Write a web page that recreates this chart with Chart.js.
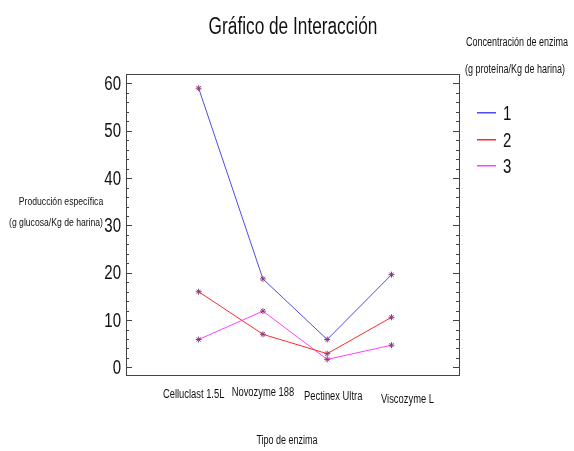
<!DOCTYPE html>
<html>
<head>
<meta charset="utf-8">
<script src="https://cdn.jsdelivr.net/npm/chart.js@4"></script>
<style>
html,body{margin:0;padding:0;background:#fff;}
#wrap{width:574px;height:451px;position:relative;}
</style>
</head>
<body>
<div id="wrap"><canvas id="c" width="574" height="451"></canvas></div>
<script>
const categories = ["Celluclast 1.5L", "Novozyme 188", "Pectinex Ultra", "Viscozyme L"];
const seriesNames = ["1", "2", "3"];
const series1 = [59.0, 18.7, 5.9, 19.6];
const series2 = [16.0, 7.0, 2.9, 10.6];
const series3 = [5.9, 11.9, 1.7, 4.7];
const seriesColors = ["#4b4bf0", "#ff2a2a", "#ff40ff"];
const yTicks = [0, 10, 20, 30, 40, 50, 60];

const FONT = "'Liberation Sans', Arial, sans-serif";
const SX = 0.75; // condensed look
// small label offsets (layout only) to mimic the staggered category labels
const catLabelDX = [-5, 0, 6, 16];
const catLabelDY = [20, 18, 22, 25];

function toPoints(arr){ return arr.map((v,i)=>({x:i, y:v})); }

function txt(ctx, s, x, y, size, align){
  ctx.save();
  ctx.font = size + "px " + FONT;
  ctx.textAlign = align || 'center';
  ctx.textBaseline = 'middle';
  ctx.translate(x, y);
  ctx.scale(SX, 1);
  ctx.fillText(s, 0, 0);
  ctx.restore();
}

const frameAndDecor = {
  id: 'frameAndDecor',
  afterDraw(chart){
    const ctx = chart.ctx;
    const a = chart.chartArea;
    const ys = chart.scales.y;
    const xs = chart.scales.x;
    ctx.save();
    ctx.strokeStyle = '#444';
    ctx.lineWidth = 1;
    ctx.strokeRect(Math.round(a.left)+0.5, Math.round(a.top)+0.5, Math.round(a.right-a.left), Math.round(a.bottom-a.top));
    for (let v = 0; v <= 60; v += 2) {
      const py = Math.round(ys.getPixelForValue(v)) + 0.5;
      const len = (v % 10 === 0) ? 6 : 3;
      ctx.beginPath();
      ctx.moveTo(a.left, py); ctx.lineTo(a.left + len, py);
      ctx.moveTo(a.right, py); ctx.lineTo(a.right - len, py);
      ctx.stroke();
    }
    ctx.fillStyle = '#111';
    yTicks.forEach(v => txt(ctx, String(v), a.left - 5, ys.getPixelForValue(v) + 1, 20, 'right'));
    categories.forEach((c, i) => txt(ctx, c, xs.getPixelForValue(i) + catLabelDX[i], a.bottom + catLabelDY[i], 12.5, 'center'));
    txt(ctx, "Gráfico de Interacción", 293, 28, 23, 'center');
    txt(ctx, "Producción específica", 61, 202, 11.5, 'center');
    txt(ctx, "(g glucosa/Kg de harina)", 56, 223, 11.5, 'center');
    txt(ctx, "Tipo de enzima", 287, 441, 12, 'center');
    txt(ctx, "Concentración de enzima", 466, 43, 12, 'left');
    txt(ctx, "(g proteína/Kg de harina)", 465, 70, 12, 'left');
    const legY = [112, 139, 165];
    chart.data.datasets.forEach((ds, i) => {
      ctx.fillStyle = seriesColors[i];
      ctx.fillRect(477, legY[i], 19, 1.5);
      ctx.fillStyle = '#111';
      txt(ctx, ds.label, 503, legY[i] + 2, 20, 'left');
    });
    ctx.restore();
  }
};

new Chart(document.getElementById('c'), {
  type: 'line',
  data: {
    datasets: [series1, series2, series3].map((s, i) => ({
      label: seriesNames[i],
      data: toPoints(s),
      borderColor: seriesColors[i],
      backgroundColor: seriesColors[i],
      borderWidth: 1,
      pointStyle: 'star',
      pointRadius: 3,
      pointBorderColor: '#8a3a7a',
      pointBorderWidth: 1,
      pointBackgroundColor: '#8a3a7a',
      tension: 0,
      fill: false
    }))
  },
  options: {
    responsive: false,
    animation: false,
    devicePixelRatio: 1,
    layout: { padding: { left: 0, right: 115, top: 74, bottom: 0 } },
    plugins: { legend: { display: false }, title: { display: false }, tooltip: { enabled: false } },
    scales: {
      x: {
        type: 'linear',
        min: -1.13,
        max: 4.05,
        afterBuildTicks(scale){ scale.ticks = categories.map((c,i)=>({value:i})); },
        ticks: { display: false },
        grid: { display: false },
        border: { display: false },
        afterFit(scale){ scale.height = 76; }
      },
      y: {
        min: -1.6,
        max: 62,
        afterBuildTicks(scale){ scale.ticks = yTicks.map(v=>({value:v})); },
        ticks: { display: false },
        grid: { display: false },
        border: { display: false },
        afterFit(scale){ scale.width = 126; }
      }
    }
  },
  plugins: [frameAndDecor]
});
</script>
</body>
</html>
